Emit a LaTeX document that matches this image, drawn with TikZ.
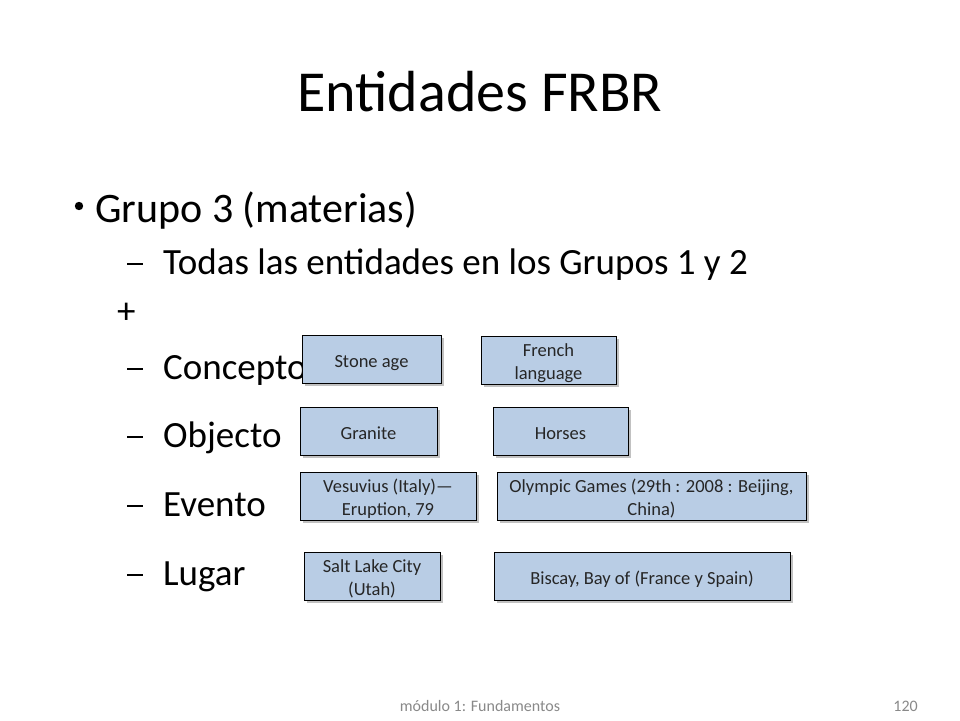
\documentclass[tikz,border=0pt]{standalone}
\usepackage{fontspec}
\setmainfont{Carlito}
\usetikzlibrary{shadows}
\definecolor{boxfill}{HTML}{B9CDE5}
\definecolor{foot}{HTML}{898989}
\newcommand\boxtxt[1]{\raisebox{-3.5pt}[\height][\depth]{\begin{tabular}{@{}c@{}}#1\end{tabular}}}
\begin{document}
\begin{tikzpicture}[x=1pt,y=-1pt,
  titletext/.style={font=\fontsize{58}{70}\selectfont, text=black, inner sep=0},
  lvlone/.style={font=\fontsize{42}{50}\selectfont, anchor=base west, inner sep=0},
  lvltwo/.style={font=\fontsize{37}{44}\selectfont, anchor=base west, inner sep=0},
  entbox/.style={draw=black, line width=0.8pt, fill=boxfill,
     font=\fontsize{18.5}{23}\selectfont, text=black!85, inner sep=1pt, minimum height=48pt,
     drop shadow={shadow xshift=2.5pt, shadow yshift=-2.5pt, opacity=0.4, fill=black!60}},
  foottext/.style={font=\fontsize{16}{19}\selectfont, text=foot, inner sep=0}
]
\useasboundingbox (0,0) rectangle (960,720);
\fill[white] (0,0) rectangle (960,720);

\node[titletext] (title) at (480,92) {Entidades FRBR};

\fill (79,206) circle (4.2pt);
\node[lvlone] (g3) at (95,222) {Grupo 3 (materias)};

\node[lvltwo] (d1) at (127,274) {\rule[0.24em]{0.42em}{0.06em}};
\node[lvltwo] (t1) at (163,274) {Todas las entidades en los Grupos 1 y 2};
\node[lvltwo] (plus) at (117,323) {+};
\node[lvltwo] (d2) at (127,379) {\rule[0.24em]{0.42em}{0.06em}};
\node[lvltwo] (t2) at (163,379) {Concepto};
\node[lvltwo] (d3) at (127,447) {\rule[0.24em]{0.42em}{0.06em}};
\node[lvltwo] (t3) at (163,447) {Objecto};
\node[lvltwo] (d4) at (127,516) {\rule[0.24em]{0.42em}{0.06em}};
\node[lvltwo] (t4) at (163,516) {Evento};
\node[lvltwo] (d5) at (127,585) {\rule[0.24em]{0.42em}{0.06em}};
\node[lvltwo] (t5) at (163,585) {Lugar};

\node[entbox, minimum width=139pt] (stone) at (371.5,359) {\boxtxt{Stone age}};
\node[entbox, minimum width=135pt] (french) at (548.5,360) {\boxtxt{French\\language}};
\node[entbox, minimum width=137pt] (granite) at (368.5,431) {\boxtxt{Granite}};
\node[entbox, minimum width=135pt] (horses) at (560.5,431) {\boxtxt{Horses}};
\node[entbox, minimum width=176pt] (vesuv) at (388,496) {\boxtxt{Vesuvius (Italy)—\\Eruption, 79}};
\node[entbox, minimum width=309pt] (olymp) at (651.5,496) {\boxtxt{Olympic Games (29th : 2008 : Beijing,\\China)}};
\node[entbox, minimum width=136pt] (salt) at (372,576) {\boxtxt{Salt Lake City\\(Utah)}};
\node[entbox, minimum width=296pt] (biscay) at (642,576) {\boxtxt{Biscay, Bay of (France y Spain)}};

\node[foottext] (foot1) at (480,706) {módulo 1: Fundamentos};
\node[foottext, anchor=east] (foot2) at (918,706) {120};
\end{tikzpicture}
\end{document}
